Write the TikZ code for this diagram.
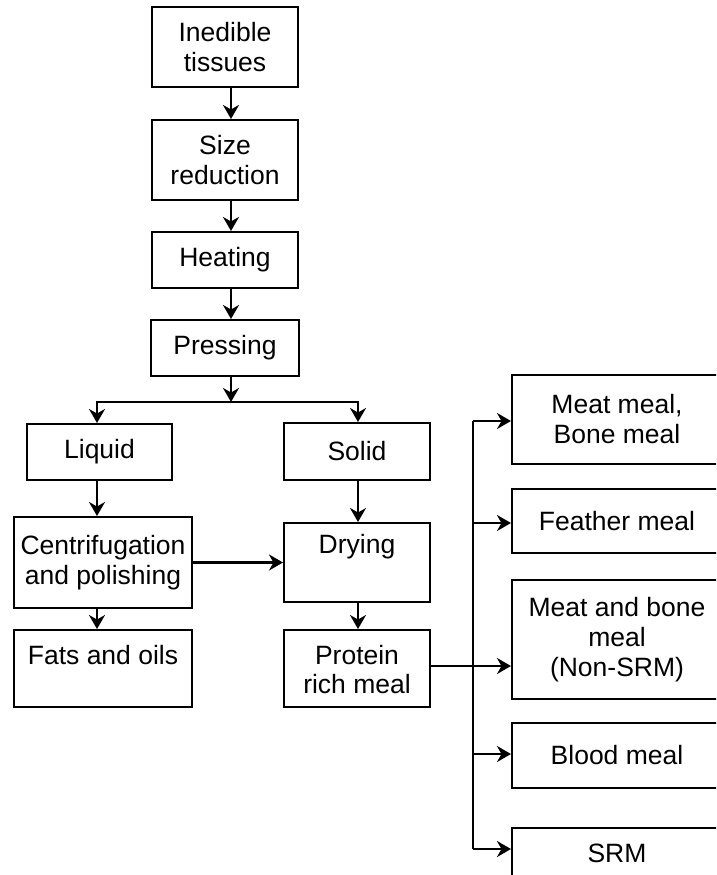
\documentclass[tikz,border=0pt]{standalone}
\usepackage{fontspec}
\setmainfont{Liberation Sans}
\usetikzlibrary{arrows.meta}
\begin{document}
\begin{tikzpicture}[x=1pt,y=-1pt,
  box/.style={draw=black, line width=2pt, inner sep=0pt, align=center, font=\fontsize{26.5}{30}\selectfont},
  txt/.style={inner sep=0pt, anchor=base, align=center, font=\fontsize{26.5}{30}\selectfont},
  arr/.style={line width=2.2pt, -{Stealth[length=14pt, width=16pt, inset=4.5pt]}},
  ln/.style={line width=2.2pt}]
\useasboundingbox (0,0) rectangle (716,875);
\clip (0,0) rectangle (716,875);
% main column
\node[box, minimum width=146pt, minimum height=80pt] (ined) at (225,47) {Inedible\\tissues};
\node[box, minimum width=146pt, minimum height=80pt] (size) at (225,160) {Size\\reduction};
\node[box, minimum width=146pt, minimum height=56pt] (heat) at (225,260) {Heating};
\node[box, minimum width=148pt, minimum height=56pt] (press) at (225,348) {Pressing};
\node[box, minimum width=145pt, minimum height=56pt] (liquid) at (99.5,452) {Liquid};
\node[box, minimum width=146pt, minimum height=57pt] (solid) at (357,451.5) {Solid};
\node[box, minimum width=178pt, minimum height=91pt] (centri) at (103,562.5) {Centrifugation\\and polishing};
\node[box, minimum width=146pt, minimum height=79pt] (drying) at (357,562.5) {};
\node[txt] (dryingt) at (357,553) {Drying};
\node[box, minimum width=178pt, minimum height=77pt] (fats) at (103,668.5) {};
\node[txt] (fatst) at (103,664) {Fats and oils};
\node[box, minimum width=146pt, minimum height=77pt] (prot) at (357,668.5) {};
\node[txt] (prott) at (357,664) {Protein};
\node[txt] (prott2) at (357,693) {rich meal};
% right column
\node[box, minimum width=210pt, minimum height=89pt] (mm) at (617,419.5) {Meat meal,\\Bone meal};
\node[box, minimum width=210pt, minimum height=64pt] (fm) at (617,521) {Feather meal};
\node[box, minimum width=210pt, minimum height=119pt] (mbm) at (617,639.5) {Meat and bone\\meal\\(Non-SRM)};
\node[box, minimum width=210pt, minimum height=65pt] (bm) at (617,755.5) {Blood meal};
\node[box, minimum width=210pt, minimum height=62pt] (srm) at (617,859) {};
\node[txt] (srmt) at (617,862) {SRM};
% connectors
\draw[arr] ([xshift=6pt]ined.south) -- ([xshift=6pt]size.north);
\draw[arr] ([xshift=6pt]size.south) -- ([xshift=6pt]heat.north);
\draw[arr] ([xshift=6pt]heat.south) -- ([xshift=6pt]press.north);
\coordinate (J) at (231,402);
\draw[arr] ([xshift=6pt]press.south) -- (J);
\draw[arr] (J) -| ([xshift=-2.5pt]liquid.north);
\draw[arr] (J) -| ([xshift=1pt]solid.north);
\draw[arr] ([xshift=-2.5pt]liquid.south) -- ([xshift=-6pt]centri.north);
\draw[arr] ([xshift=-6pt]centri.south) -- ([xshift=-6pt]fats.north);
\draw[arr] (centri.east) -- (centri.east -| drying.west);
\draw[arr] ([xshift=1pt]solid.south) -- ([xshift=1pt]drying.north);
\draw[arr] ([xshift=1pt]drying.south) -- ([xshift=1pt]prot.north);
\draw[arr] ([yshift=2.5pt]prot.east) -- ([yshift=2.5pt]prot.east -| mbm.west);
\coordinate (bus) at (473,0);
\draw[ln] ([yshift=-1.5pt]mm.west -| bus) -- ([yshift=10pt]srm.west -| bus);
\draw[arr] ([yshift=-1.5pt]mm.west -| bus) -- ([yshift=-1.5pt]mm.west);
\draw[arr] ([yshift=-2pt]fm.west -| bus) -- ([yshift=-2pt]fm.west);
\draw[arr] ([yshift=1.5pt]bm.west -| bus) -- ([yshift=1.5pt]bm.west);
\draw[arr] ([yshift=10pt]srm.west -| bus) -- ([yshift=10pt]srm.west);
\end{tikzpicture}
\end{document}
